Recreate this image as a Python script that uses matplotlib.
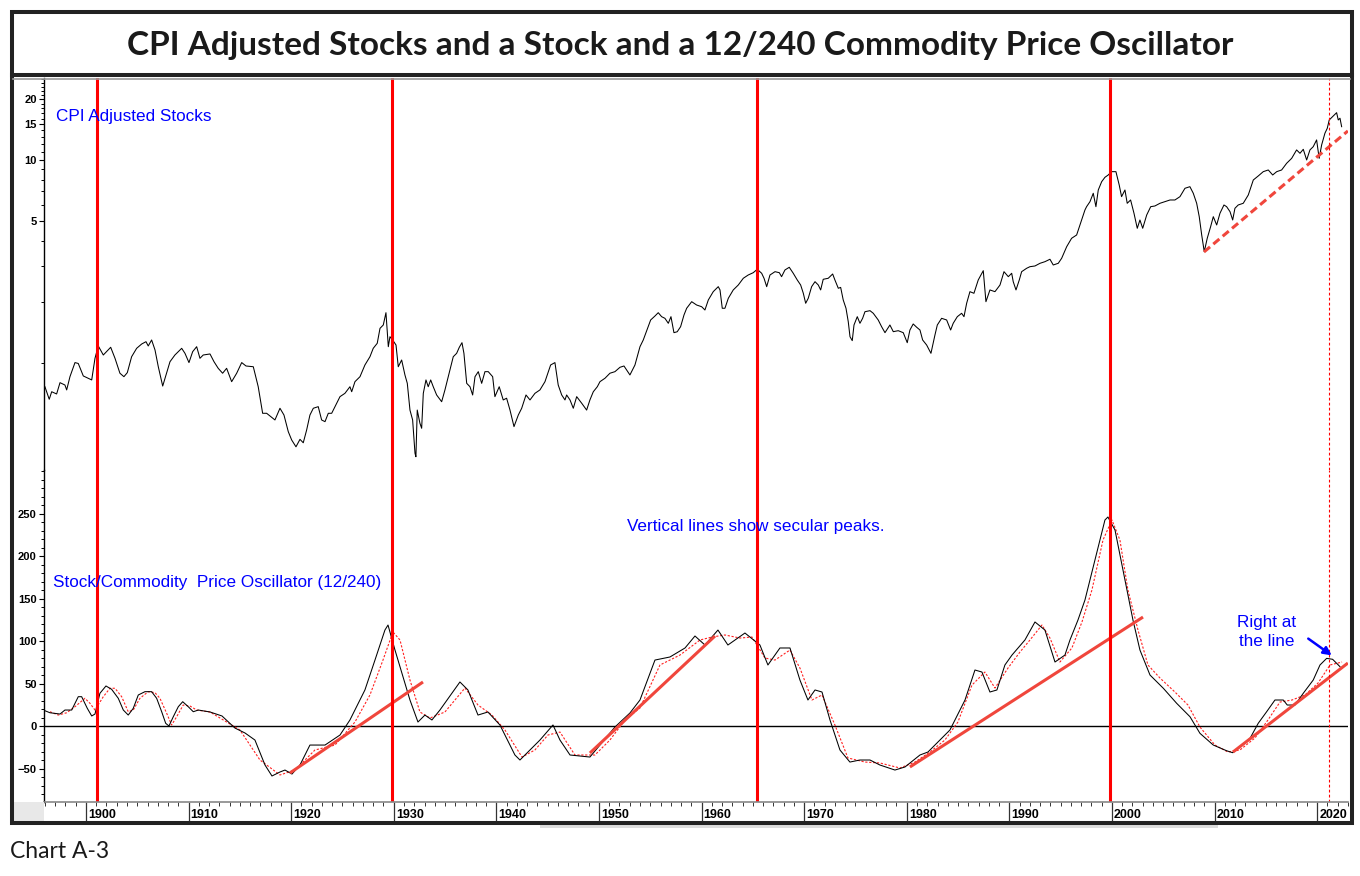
import numpy as np
import matplotlib
matplotlib.use("Agg")
import matplotlib.pyplot as plt
from matplotlib.patches import Rectangle, FancyArrowPatch
from matplotlib.lines import Line2D
from matplotlib.ticker import FixedLocator, MultipleLocator, NullFormatter, FixedFormatter

# ---------------- data ----------------
stock_years = [1896.00, 1896.42, 1896.66, 1897.14, 1897.47, 1897.95, 1898.12, 1898.44, 1898.93, 1899.25,
               1899.74, 1900.56, 1900.88, 1901.20, 1901.69, 1902.41, 1902.83, 1903.31, 1903.70, 1904.03,
               1904.45, 1904.94, 1905.43, 1905.85, 1906.07, 1906.40, 1906.73, 1907.05, 1907.48, 1907.80,
               1908.19, 1908.67, 1909.00, 1909.33, 1909.65, 1910.04, 1910.40, 1910.79, 1911.11, 1911.43,
               1912.09, 1912.48, 1912.89, 1913.32, 1913.71, 1914.20, 1914.69, 1915.18, 1915.60, 1916.31,
               1916.79, 1917.22, 1917.61, 1918.42, 1918.91, 1919.30, 1919.72, 1920.05, 1920.47, 1920.86,
               1921.18, 1921.51, 1921.83, 1922.16, 1922.64, 1922.97, 1923.30, 1923.62, 1923.95, 1924.44,
               1924.76, 1925.24, 1925.73, 1925.90, 1926.22, 1926.71, 1927.19, 1927.68, 1928.00, 1928.39,
               1928.66, 1928.98, 1929.24, 1929.47, 1929.63, 1929.89, 1930.22, 1930.44, 1930.77, 1931.09,
               1931.32, 1931.58, 1931.84, 1932.07, 1932.16, 1932.29, 1932.55, 1932.72, 1932.88, 1933.14,
               1933.36, 1933.60, 1933.85, 1934.18, 1934.67, 1934.99, 1935.48, 1935.80, 1936.13, 1936.39,
               1936.65, 1936.84, 1937.11, 1937.43, 1937.69, 1937.92, 1938.24, 1938.57, 1938.89, 1939.21,
               1939.64, 1939.86, 1940.28, 1940.67, 1941.00, 1941.33, 1941.72, 1942.14, 1942.47, 1942.89,
               1943.28, 1943.76, 1944.25, 1944.74, 1945.29, 1945.71, 1946.03, 1946.37, 1946.69, 1946.85,
               1947.18, 1947.50, 1947.83, 1948.32, 1948.80, 1949.12, 1949.45, 1949.84, 1950.10, 1950.59,
               1951.07, 1951.56, 1952.05, 1952.44, 1953.02, 1953.51, 1954.00, 1954.32, 1954.71, 1955.04,
               1955.46, 1955.78, 1956.11, 1956.43, 1956.76, 1957.02, 1957.31, 1957.63, 1957.96, 1958.29,
               1958.55, 1959.04, 1959.52, 1960.01, 1960.33, 1960.66, 1961.14, 1961.63, 1961.80, 1962.02,
               1962.28, 1962.61, 1963.09, 1963.58, 1964.07, 1964.55, 1965.04, 1965.43, 1965.86, 1966.09,
               1966.35, 1966.67, 1967.16, 1967.58, 1967.80, 1968.13, 1968.55, 1968.94, 1969.33, 1969.66,
               1969.92, 1970.15, 1970.40, 1970.73, 1971.06, 1971.38, 1971.61, 1971.86, 1972.35, 1972.78,
               1973.00, 1973.33, 1973.56, 1973.81, 1974.08, 1974.30, 1974.47, 1974.69, 1974.86, 1975.18,
               1975.44, 1975.70, 1975.93, 1976.42, 1976.74, 1977.22, 1977.55, 1977.88, 1978.36, 1978.69,
               1979.17, 1979.66, 1980.05, 1980.31, 1980.63, 1980.97, 1981.29, 1981.55, 1981.94, 1982.36,
               1982.75, 1982.98, 1983.40, 1983.89, 1984.28, 1984.53, 1984.93, 1985.35, 1985.58, 1985.84,
               1986.16, 1986.55, 1986.97, 1987.46, 1987.72, 1988.11, 1988.60, 1989.09, 1989.48, 1989.90,
               1990.23, 1990.38, 1990.65, 1990.97, 1991.20, 1991.69, 1992.01, 1992.50, 1992.99, 1993.47,
               1993.96, 1994.28, 1994.77, 1995.10, 1995.59, 1996.07, 1996.56, 1996.88, 1997.37, 1997.53,
               1997.86, 1998.18, 1998.44, 1998.67, 1999.00, 1999.32, 1999.64, 1999.97, 2000.39, 2000.71,
               2000.94, 2001.27, 2001.49, 2001.82, 2002.15, 2002.47, 2002.73, 2003.00, 2003.39, 2003.78,
               2004.19, 2004.68, 2005.17, 2005.66, 2006.14, 2006.63, 2007.12, 2007.60, 2007.93, 2008.26,
               2008.51, 2008.75, 2009.00, 2009.29, 2009.62, 2009.88, 2010.21, 2010.53, 2010.92, 2011.18,
               2011.51, 2011.77, 2011.99, 2012.31, 2012.80, 2013.29, 2013.78, 2014.26, 2014.75, 2015.24,
               2015.67, 2016.06, 2016.54, 2017.03, 2017.52, 2018.00, 2018.33, 2018.65, 2018.98, 2019.30,
               2019.62, 2019.95, 2020.20, 2020.44, 2020.76, 2020.99, 2021.18, 2021.51, 2021.90, 2022.06,
               2022.23, 2022.39]
stock_values = [0.760, 0.659, 0.718, 0.700, 0.796, 0.775, 0.733, 0.852, 1.000, 0.990,
                0.859, 0.821, 1.050, 1.208, 1.090, 1.190, 1.050, 0.886, 0.852, 0.892,
                1.069, 1.176, 1.235, 1.268, 1.208, 1.293, 1.154, 0.954, 0.766, 0.869,
                1.010, 1.090, 1.132, 1.176, 1.111, 1.000, 1.132, 1.198, 1.050, 1.090,
                1.103, 1.010, 0.937, 0.886, 0.937, 0.805, 0.886, 1.000, 0.962, 0.954,
                0.760, 0.562, 0.562, 0.521, 0.595, 0.551, 0.456, 0.415, 0.384, 0.418,
                0.402, 0.465, 0.551, 0.595, 0.606, 0.521, 0.511, 0.562, 0.562, 0.630,
                0.679, 0.705, 0.760, 0.718, 0.805, 0.852, 0.973, 1.069, 1.176, 1.245,
                1.476, 1.533, 1.763, 1.198, 1.342, 1.293, 1.221, 0.954, 1.030, 0.869,
                0.790, 0.583, 0.521, 0.357, 0.343, 0.583, 0.502, 0.474, 0.705, 0.821,
                0.760, 0.821, 0.760, 0.692, 0.641, 0.733, 0.919, 1.069, 1.111, 1.190,
                1.254, 1.111, 0.790, 0.760, 0.692, 0.852, 0.902, 0.790, 0.902, 0.902,
                0.852, 0.679, 0.760, 0.654, 0.667, 0.583, 0.483, 0.551, 0.595, 0.692,
                0.654, 0.705, 0.733, 0.805, 0.973, 1.000, 0.775, 0.692, 0.654, 0.692,
                0.654, 0.595, 0.679, 0.630, 0.583, 0.654, 0.718, 0.760, 0.805, 0.837,
                0.886, 0.902, 0.948, 0.962, 0.869, 0.973, 1.198, 1.293, 1.460, 1.623,
                1.698, 1.763, 1.685, 1.654, 1.563, 1.685, 1.405, 1.420, 1.504, 1.718,
                1.854, 1.998, 1.924, 1.887, 1.818, 2.037, 2.239, 2.370, 2.283, 1.854,
                1.854, 2.077, 2.283, 2.415, 2.607, 2.706, 2.778, 2.887, 2.759, 2.607,
                2.370, 2.706, 2.810, 2.778, 2.655, 2.865, 2.954, 2.759, 2.557, 2.415,
                2.198, 1.962, 2.077, 2.370, 2.508, 2.415, 2.283, 2.577, 2.607, 2.737,
                2.557, 2.327, 2.350, 2.037, 1.854, 1.592, 1.342, 1.283, 1.533, 1.685,
                1.563, 1.654, 1.783, 1.804, 1.751, 1.623, 1.504, 1.405, 1.533, 1.421,
                1.437, 1.405, 1.254, 1.448, 1.551, 1.494, 1.448, 1.293, 1.221, 1.111,
                1.368, 1.533, 1.654, 1.623, 1.448, 1.563, 1.685, 1.751, 1.685, 1.962,
                2.239, 2.198, 2.557, 2.842, 1.998, 2.283, 2.239, 2.415, 2.810, 2.655,
                2.759, 2.508, 2.283, 2.557, 2.810, 2.921, 2.974, 2.998, 3.091, 3.148,
                3.236, 3.032, 3.091, 3.272, 3.733, 4.107, 4.264, 4.777, 5.665, 5.882,
                6.226, 6.849, 5.882, 7.112, 7.814, 8.214, 8.433, 8.757, 8.757, 7.526,
                6.591, 7.112, 6.113, 6.347, 5.457, 4.601, 5.057, 4.601, 5.352, 5.882,
                5.929, 6.113, 6.226, 6.347, 6.347, 6.591, 7.250, 7.383, 6.849, 6.113,
                5.251, 4.264, 3.527, 4.107, 4.686, 5.251, 4.777, 5.457, 5.997, 5.882,
                5.557, 5.057, 5.776, 5.997, 6.113, 6.718, 7.967, 8.338, 8.757, 8.927,
                8.433, 8.757, 8.927, 9.632, 10.19, 11.21, 10.79, 11.29, 10.00, 11.21,
                11.63, 12.56, 10.19, 11.86, 13.55, 14.34, 15.76, 16.36, 17.12, 15.76,
                16.07, 14.60]

osc_years = [1896.00, 1896.49, 1897.47, 1897.95, 1898.61, 1899.25, 1899.58, 1900.13, 1900.56, 1900.88,
             1901.36, 1901.95, 1902.50, 1903.15, 1903.64, 1904.12, 1904.61, 1905.10, 1905.75, 1906.40,
             1906.89, 1907.38, 1907.77, 1908.09, 1908.51, 1909.00, 1909.43, 1909.97, 1910.46, 1910.95,
             1912.09, 1913.26, 1914.52, 1915.50, 1916.47, 1917.45, 1918.13, 1918.91, 1919.40, 1920.08,
             1920.86, 1921.83, 1923.30, 1924.76, 1925.73, 1927.19, 1928.17, 1929.14, 1929.44, 1930.12,
             1931.58, 1932.36, 1933.04, 1933.72, 1934.50, 1936.45, 1937.23, 1938.21, 1939.18, 1940.35,
             1941.81, 1942.30, 1943.28, 1944.25, 1945.52, 1946.20, 1947.18, 1949.12, 1950.10, 1951.56,
             1953.02, 1954.00, 1955.46, 1956.92, 1958.39, 1959.36, 1960.33, 1961.60, 1962.57, 1963.26,
             1964.23, 1965.69, 1966.47, 1967.64, 1968.62, 1969.59, 1970.37, 1971.06, 1971.74, 1972.52,
             1973.49, 1974.46, 1975.44, 1976.42, 1977.39, 1978.85, 1979.83, 1981.29, 1982.07, 1983.24,
             1984.21, 1985.68, 1986.65, 1987.33, 1988.11, 1988.79, 1989.57, 1990.26, 1991.52, 1992.50,
             1993.47, 1994.45, 1995.42, 1995.91, 1996.69, 1997.37, 1998.35, 1999.32, 1999.61, 2000.30,
             2001.27, 2002.05, 2002.73, 2003.71, 2005.01, 2006.31, 2007.61, 2008.58, 2009.88, 2011.18,
             2011.77, 2012.48, 2013.46, 2014.26, 2015.08, 2015.89, 2016.70, 2017.09, 2017.84, 2018.65,
             2019.62, 2020.28, 2020.93, 2021.51, 2022.23]
osc_values = [18.0, 15.6, 14.1, 18.8, 18.8, 34.5, 34.5, 20.8, 11.8, 14.1,
              38.5, 47.1, 43.2, 32.6, 18.8, 12.9, 20.8, 36.5, 40.4, 40.4,
              32.6, 16.8, 3.2, 0.0, 10.9, 22.7, 28.6, 22.7, 16.8, 18.8,
              16.5, 11.8, -2.4, -8.2, -16.5, -45.9, -58.8, -54.1, -51.8, -56.5,
              -45.9, -22.4, -22.4, -10.6, 7.1, 42.4, 77.6, 112.9, 118.8, 89.4,
              30.6, 4.7, 12.9, 7.1, 18.8, 51.8, 42.4, 12.9, 16.5, 1.2,
              -34.1, -40.0, -28.2, -16.5, 1.2, -16.5, -34.1, -36.5, -22.4, -1.2,
              15.3, 30.6, 77.6, 81.2, 91.8, 105.9, 95.3, 112.9, 95.3, 101.2,
              109.4, 95.3, 71.8, 91.8, 91.8, 54.1, 30.6, 42.4, 40.0, 7.1,
              -28.2, -42.4, -40.0, -40.0, -45.9, -51.8, -48.2, -34.1, -30.6, -16.5,
              -4.7, 30.6, 65.9, 63.5, 40.0, 42.4, 71.8, 83.5, 101.2, 122.4,
              112.9, 75.3, 83.5, 101.2, 124.7, 148.2, 195.3, 242.4, 245.9, 230.6,
              171.8, 124.7, 89.4, 60.0, 44.4, 26.7, 10.9, -8.6, -22.4, -29.1,
              -31.4, -24.4, -14.5, 3.2, 16.8, 30.6, 30.6, 24.7, 24.7, 38.5,
              54.1, 71.8, 79.6, 78.5, 69.8]

sig_years = [1896.49, 1897.30, 1898.12, 1898.93, 1899.90, 1900.39, 1900.88, 1901.69, 1902.34, 1902.83,
             1903.48, 1904.12, 1904.61, 1905.26, 1906.07, 1906.73, 1907.21, 1907.87, 1908.35, 1908.84,
             1909.48, 1910.14, 1910.79, 1912.09, 1915.01, 1916.96, 1918.91, 1920.37, 1922.32, 1924.27,
             1926.22, 1927.68, 1928.95, 1929.92, 1930.61, 1931.58, 1932.55, 1933.53, 1934.99, 1936.94,
             1938.21, 1939.57, 1940.84, 1942.50, 1943.76, 1945.03, 1946.20, 1947.66, 1949.61, 1951.07,
             1952.54, 1954.00, 1955.95, 1957.90, 1959.85, 1961.02, 1962.28, 1963.75, 1964.92, 1966.18,
             1967.16, 1968.62, 1969.59, 1970.76, 1971.74, 1973.00, 1974.27, 1975.93, 1977.39, 1979.34,
             1980.80, 1982.26, 1983.72, 1984.99, 1986.36, 1987.62, 1988.60, 1989.87, 1991.04, 1992.01,
             1993.18, 1993.96, 1994.93, 1996.10, 1997.08, 1998.05, 1999.13, 2000.00, 2000.78, 2001.56,
             2002.54, 2003.51, 2004.68, 2006.14, 2007.41, 2008.58, 2010.04, 2011.31, 2012.48, 2013.94,
             2015.21, 2016.38, 2017.55, 2018.82, 2020.09, 2021.26, 2022.43]
sig_values = [16.8, 12.9, 15.6, 22.7, 32.6, 26.7, 18.8, 34.5, 44.4, 44.4,
              34.5, 16.8, 18.8, 32.6, 40.4, 39.2, 32.6, 14.9, 1.2, 10.9,
              24.7, 23.5, 18.8, 16.5, -4.7, -40.0, -57.6, -51.8, -28.2, -22.4,
              4.7, 36.5, 77.6, 110.6, 101.2, 54.1, 16.5, 9.4, 16.5, 44.7,
              24.7, 12.9, -4.7, -36.5, -28.2, -10.6, -7.1, -34.1, -34.1, -16.5,
              7.1, 21.2, 71.8, 83.5, 101.2, 104.7, 107.1, 103.5, 104.7, 80.0,
              77.6, 89.4, 68.2, 30.6, 36.5, 1.2, -37.6, -42.4, -43.5, -49.4,
              -42.4, -30.6, -16.5, 4.7, 48.2, 63.5, 44.7, 68.2, 87.1, 101.2,
              118.8, 103.5, 75.3, 91.8, 122.4, 160.0, 218.8, 242.4, 218.8, 160.0,
              112.9, 71.8, 56.5, 40.0, 24.7, -1.2, -22.4, -30.6, -28.2, -14.1,
              7.1, 28.2, 30.6, 36.5, 50.6, 71.8, 75.3]

peak_years = [1901.07, 1929.83, 1965.40, 1999.81]
latest_year = 2021.15

stock_trend_years = [2008.97, 2023.00]
stock_trend_values = [3.515, 13.91]

osc_trend_years = [[1919.88, 1932.85], [1949.12, 1961.31], [1980.31, 2003.03], [2011.80, 2023.00]]
osc_trend_values = [[-55.3, 51.8], [-31.8, 105.9], [-48.2, 128.2], [-30.6, 74.1]]

decade_labels = [1900, 1910, 1920, 1930, 1940, 1950, 1960, 1970, 1980, 1990, 2000, 2010, 2020]
stock_ticks = [5, 10, 15, 20]
osc_ticks = [-50, 0, 50, 100, 150, 200, 250]

title = "CPI Adjusted Stocks and a Stock and a 12/240 Commodity Price Oscillator"

# ---------------- layout ----------------
W, H = 1360, 876
fig = plt.figure(figsize=(W / 100, H / 100), dpi=100)
fig.patch.set_facecolor("white")


def fx(px):
    return px / W


def fy(py):
    return 1 - py / H


X0, X1 = 44, 1348
Y_TOP, Y_MID, Y_BOT = 78, 470, 802

ax1 = fig.add_axes([fx(X0), fy(Y_MID), fx(X1) - fx(X0), fy(Y_TOP) - fy(Y_MID)])
ax2 = fig.add_axes([fx(X0), fy(Y_BOT), fx(X1) - fx(X0), fy(Y_MID) - fy(Y_BOT)], sharex=ax1)

XL = (1895.91, 2023.01)
ax1.set_xlim(*XL)
ax1.set_yscale("log")
ax1.set_ylim(0.295, 25.39)
ax2.set_ylim(-89.4, 301.2)

LINE_RED = "#f0463c"

# top panel
ax1.plot(stock_years, stock_values, color="black", lw=0.75)
ax1.plot(stock_trend_years, stock_trend_values, color=LINE_RED, lw=2.2,
         linestyle=(0, (2.6, 1.4)), solid_capstyle="butt")

# lower panel
ax2.axhline(0, color="black", lw=1.0)
ax2.plot(sig_years, sig_values, color="#ff2020", lw=0.8, linestyle=(0, (2, 1.5)))
ax2.plot(osc_years, osc_values, color="black", lw=0.75)
for ty, tv in zip(osc_trend_years, osc_trend_values):
    ax2.plot(ty, tv, color=LINE_RED, lw=2.2, solid_capstyle="butt")

for ax in (ax1, ax2):
    for yr in peak_years:
        ax.axvline(yr, color="#ff0000", lw=2.2)
    ax.axvline(latest_year, color="#ff0000", lw=0.8, linestyle=(0, (2.5, 2)))
    ax.set_facecolor("none")

# spines
for s in ("top", "right", "bottom"):
    ax1.spines[s].set_visible(False)
for s in ("top", "right"):
    ax2.spines[s].set_visible(False)
ax1.spines["left"].set_linewidth(1.0)
ax2.spines["left"].set_linewidth(1.0)
ax2.spines["bottom"].set_color("#888888")
ax2.spines["bottom"].set_linewidth(1.2)

TICKFONT = dict(family="Liberation Sans", weight="bold", size=8)

# y ticks top (log)
ax1.yaxis.set_major_locator(FixedLocator(stock_ticks))
ax1.yaxis.set_major_formatter(FixedFormatter([str(v) for v in stock_ticks]))
ax1.yaxis.set_minor_locator(FixedLocator([1, 2, 3, 4, 6, 7, 8, 9, 11, 12, 13, 14, 16, 17, 18, 19, 21, 22, 23, 24, 25]))
ax1.yaxis.set_minor_formatter(NullFormatter())
ax1.tick_params(axis="y", which="major", length=3.8, width=0.8, pad=1.5)
ax1.tick_params(axis="y", which="minor", length=2.2, width=0.7)
ax1.tick_params(axis="x", which="both", bottom=False, labelbottom=False)
for lab in ax1.get_yticklabels():
    lab.set_fontproperties(TICKFONT)

# y ticks lower
ax2.yaxis.set_major_locator(FixedLocator(osc_ticks))
ax2.yaxis.set_minor_locator(MultipleLocator(10))
ax2.tick_params(axis="y", which="major", length=3.8, width=0.8, pad=1.5)
ax2.tick_params(axis="y", which="minor", length=2.2, width=0.7)
for lab in ax2.get_yticklabels():
    lab.set_fontproperties(TICKFONT)

# x ticks
ax2.xaxis.set_major_locator(FixedLocator(decade_labels))
ax2.xaxis.set_major_formatter(NullFormatter())
ax2.xaxis.set_minor_locator(MultipleLocator(1))
ax2.tick_params(axis="x", which="major", length=13.5, width=0.9, color="#333333")
ax2.tick_params(axis="x", which="minor", length=3.0, width=0.7, color="#333333")
xtr = ax2.get_xaxis_transform()
for yr in decade_labels:
    ax2.text(yr + 0.2, -0.038, str(yr), transform=xtr, ha="left", va="center",
             fontfamily="Liberation Sans", fontweight="bold", fontsize=9, color="black")

# ---------------- annotations ----------------
BLUE = "#0000ff"
ANN = dict(family="Liberation Sans", size=12.3, color=BLUE)
fig.text(fx(56), fy(117), "CPI Adjusted Stocks", ha="left", va="center", **ANN)
fig.text(fx(53), fy(582), "Stock/Commodity  Price Oscillator (12/240)", ha="left", va="center", **ANN)
fig.text(fx(627), fy(526), "Vertical lines show secular peaks.", ha="left", va="center", **ANN)
fig.text(fx(1267), fy(632), "Right at\nthe line", ha="center", va="center", linespacing=1.35, **ANN)
fig.add_artist(FancyArrowPatch((fx(1306), fy(637)), (fx(1334), fy(657)), transform=fig.transFigure,
                               arrowstyle="-|>", mutation_scale=12, color=BLUE, lw=1.8))

# ---------------- frame / title ----------------
fig.add_artist(Rectangle((fx(13), fy(821)), fx(44) - fx(13), fy(802) - fy(821), transform=fig.transFigure,
                         facecolor="#e8e8e8", edgecolor="none"))
fig.add_artist(Rectangle((fx(540), fy(828)), fx(1218) - fx(540), fy(824) - fy(828), transform=fig.transFigure,
                         facecolor="#dcdcdc", edgecolor="none"))
fig.add_artist(Line2D([fx(13), fx(1350)], [fy(78.5), fy(78.5)], transform=fig.transFigure, color="#999999", lw=1.2))
fig.add_artist(Rectangle((fx(11.5), fy(823)), fx(1351.5) - fx(11.5), fy(11.5) - fy(823), transform=fig.transFigure,
                         fill=False, edgecolor="#222222", lw=2.9))
fig.add_artist(Line2D([fx(11.5), fx(1351.5)], [fy(75), fy(75)], transform=fig.transFigure, color="#222222", lw=2.9))
fig.text(fx(680.5), fy(45), title, ha="center", va="center", fontfamily="Lato", fontweight="bold",
         fontsize=24, color="#1a1a1a")
fig.text(fx(10), fy(851), "Chart A-3", ha="left", va="center", fontfamily="Lato", fontsize=16.5, color="#1a1a1a")

fig.savefig("out.png", dpi=100, facecolor="white")
